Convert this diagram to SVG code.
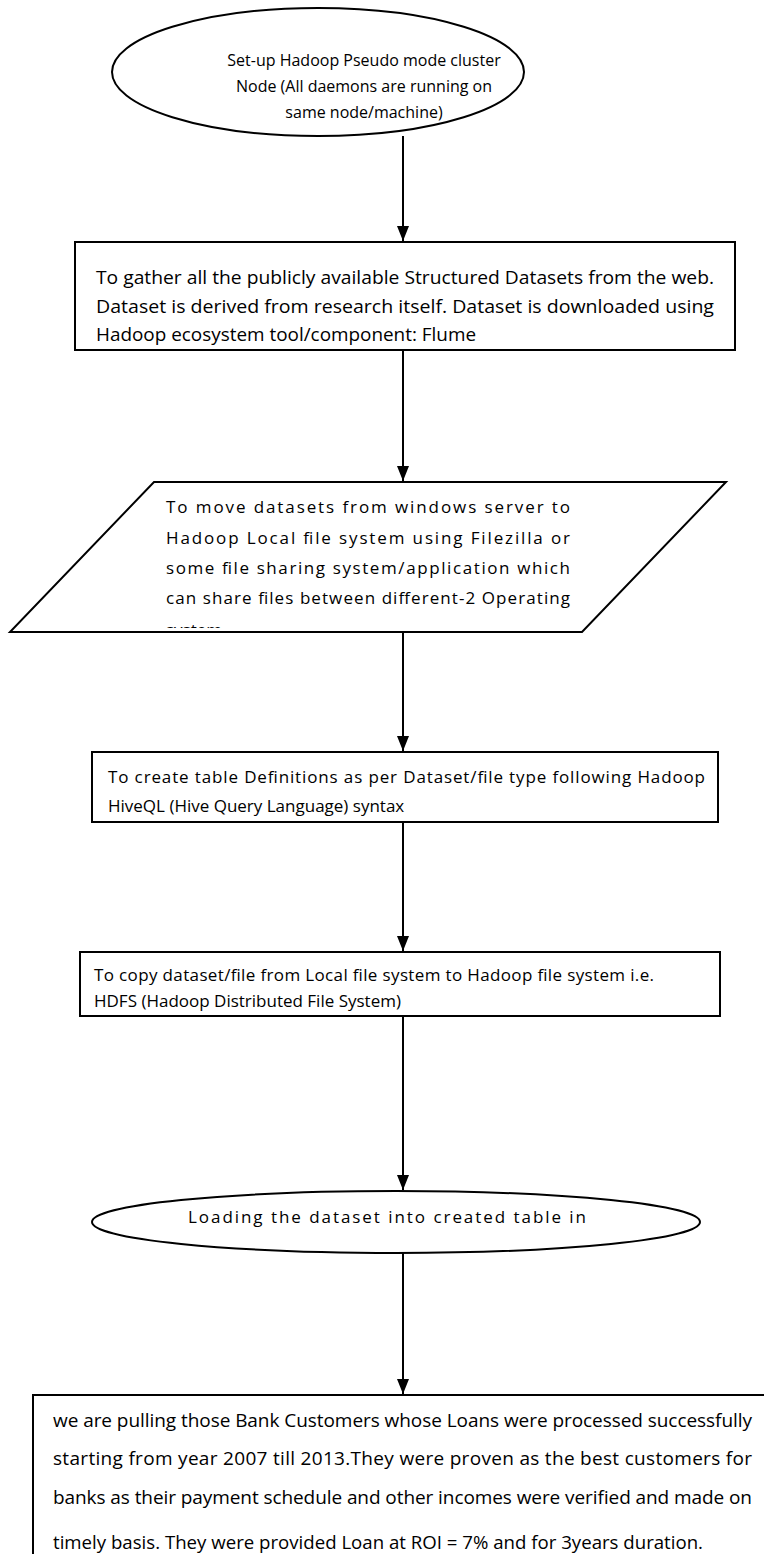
<svg xmlns="http://www.w3.org/2000/svg" width="764" height="1554" viewBox="0 0 764 1554">
<style>
.s{fill:#fff;stroke:#000;stroke-width:2}
.t{font-family:"Open Sans","Liberation Sans",sans-serif;font-size:17px;fill:#000}
.e{font-size:16px}
.n{font-size:18.5px}
.b{font-size:19px}
.c{stroke:#000;stroke-width:2;fill:none;marker-end:url(#ah)}
</style>
<defs>
<marker id="ah" markerWidth="15" markerHeight="12" refX="15" refY="6" orient="auto" markerUnits="userSpaceOnUse" viewBox="0 0 15 12"><path d="M0,0 L15,6 L0,12 Z" fill="#000"/></marker>
<clipPath id="pc"><rect x="0" y="482" width="764" height="146"/></clipPath>
</defs>
<g id="n1">
<ellipse class="s" cx="318" cy="72" rx="206" ry="64"/>
<text class="t e" x="364" y="66" text-anchor="middle">Set-up Hadoop Pseudo mode cluster</text>
<text class="t e" x="364" y="92" text-anchor="middle">Node (All daemons are running on</text>
<text class="t e" x="364" y="118" text-anchor="middle">same node/machine)</text>
</g>
<g id="n2">
<rect class="s" x="75" y="242" width="660" height="108"/>
<text class="t n" x="96" y="284" textLength="618" lengthAdjust="spacingAndGlyphs">To gather all the publicly available Structured Datasets from the web.</text>
<text class="t n" x="96" y="313" textLength="618" lengthAdjust="spacingAndGlyphs">Dataset is derived from research itself. Dataset is downloaded using</text>
<text class="t n" x="96" y="341" textLength="380" lengthAdjust="spacingAndGlyphs">Hadoop ecosystem tool/component: Flume</text>
</g>
<g id="n3">
<polygon class="s" points="154,482 726,482 582,632 10,632"/>
<g clip-path="url(#pc)">
<text class="t" x="166" y="513" textLength="404" lengthAdjust="spacing">To move datasets from windows server to</text>
<text class="t" x="166" y="544" textLength="404" lengthAdjust="spacing">Hadoop Local file system using Filezilla or</text>
<text class="t" x="166" y="574" textLength="404" lengthAdjust="spacing">some file sharing system/application which</text>
<text class="t" x="166" y="604" textLength="404" lengthAdjust="spacing">can share files between different-2 Operating</text>
<text class="t" x="166" y="636">system</text>
</g>
</g>
<g id="n4">
<rect class="s" x="92" y="752" width="626" height="70"/>
<text class="t" x="108" y="783" textLength="597" lengthAdjust="spacing">To create table Definitions as per Dataset/file type following Hadoop</text>
<text class="t" x="108" y="812">HiveQL (Hive Query Language) syntax</text>
</g>
<g id="n5">
<rect class="s" x="80" y="952" width="640" height="64"/>
<text class="t" x="94" y="981" textLength="560" lengthAdjust="spacing">To copy dataset/file from Local file system to Hadoop file system i.e.</text>
<text class="t" x="94" y="1007">HDFS (Hadoop Distributed File System)</text>
</g>
<g id="n6">
<ellipse class="s" cx="396" cy="1222" rx="304" ry="31"/>
<text class="t" x="188" y="1223" textLength="398" lengthAdjust="spacing">Loading the dataset into created table in</text>
</g>
<g id="n7">
<path class="s" d="M33,1560 L33,1395 L770,1395"/>
<text class="t b" x="53" y="1427" textLength="699" lengthAdjust="spacing">we are pulling those Bank Customers whose Loans were processed successfully</text>
<text class="t b" x="53" y="1465" textLength="699" lengthAdjust="spacing">starting from year 2007 till 2013.They were proven as the best customers for</text>
<text class="t b" x="53" y="1504" textLength="699" lengthAdjust="spacing">banks as their payment schedule and other incomes were verified and made on</text>
<text class="t b" x="53" y="1549" textLength="650" lengthAdjust="spacingAndGlyphs">timely basis. They were provided Loan at ROI = 7% and for 3years duration.</text>
</g>
<g id="connectors">
<line class="c" x1="403" y1="136" x2="403" y2="241"/>
<line class="c" x1="403" y1="350" x2="403" y2="481"/>
<line class="c" x1="403" y1="632" x2="403" y2="751"/>
<line class="c" x1="403" y1="822" x2="403" y2="951"/>
<line class="c" x1="403" y1="1016" x2="403" y2="1190"/>
<line class="c" x1="403" y1="1253" x2="403" y2="1394"/>
</g>
</svg>
